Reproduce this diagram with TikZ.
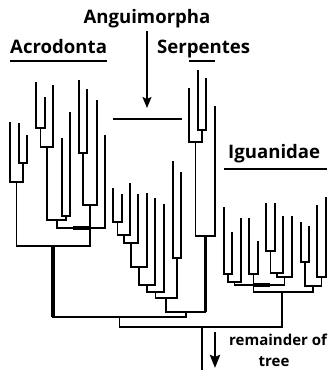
\documentclass[tikz,border=0pt]{standalone}
\usepackage{fontspec}
\setmainfont{Open Sans}
\usetikzlibrary{arrows.meta}
\tikzset{
  br/.style={line width=1.4pt, line cap=rect},
  thk/.style={line width=3.8pt},
  lbl/.style={font=\bfseries\fontsize{18.6}{22}\selectfont, inner sep=0pt},
  small/.style={font=\bfseries\fontsize{15}{18}\selectfont, inner sep=0pt},
}
\begin{document}
\begin{tikzpicture}[x=1pt,y=-1pt]
\useasboundingbox (0,0) rectangle (328,370);
% labels
\node[lbl, anchor=base] (ang) at (147,23) {Anguimorpha};
\node[lbl, anchor=base west] (acr) at (10,53) {Acrodonta};
\node[lbl, anchor=base west] (ser) at (157,53) {Serpentes};
\node[lbl, anchor=base west] (igu) at (228,158) {Iguanidae};
\node[small, anchor=base west] (rem) at (229,345) {remainder of};
\node[small, anchor=base] (tre) at (274,366) {tree};
\draw[line width=1.4pt] (10,61) -- (107,61);
\draw[line width=1.4pt] (189,61) -- (215,61);
\draw[line width=1.4pt] (224,169) -- (327,169);
\coordinate (angtop) at (147,31);
\coordinate (angtip) at (147,108);
\draw[line width=1.4pt, -{Stealth[length=11pt,width=9pt,inset=2pt]}] (angtop) -- (angtip);
\draw[line width=1.4pt] (113,119) -- (182,119);
\coordinate (remtop) at (215,332);
\coordinate (remtip) at (215,368);
\draw[line width=2.8pt, -{Stealth[length=13pt,width=10pt,inset=2pt]}] (remtop) -- (remtip);

% Acrodonta
\draw[br] (10,123) -- (10,182);
\draw[br] (19,124) -- (19,163) -- (27,163) -- (27,136);
\draw[br] (23,163) -- (23,182);
\draw[br] (10,182) -- (23,182);
\draw[br] (16.5,182) -- (16.5,246);
\draw[br] (36,83) -- (36,128) -- (45,128) -- (45,98);
\draw[br] (40.5,128) -- (40.5,147);
\draw[br] (53,86) -- (53,147);
\draw[br] (40.5,147) -- (53,147);
\draw[br] (47,147) -- (47,220);
\draw[br] (62,139) -- (62,216) -- (70,216) -- (70,113);
\draw[br] (66,216) -- (66,220);
\draw[br] (47,220) -- (66,220);
\draw[br] (57,220) -- (57,228);
\draw[br] (79,81) -- (79,153) -- (87,153) -- (87,90);
\draw[br] (83,153) -- (83,205);
\draw[br] (97,101) -- (97,205);
\draw[br] (83,205) -- (97,205);
\draw[br] (90,205) -- (90,246);
\draw[br] (105,136) -- (105,228);
\draw[br] (57,228) -- (105,228);
\draw[thk] (73,228) -- (90,228);
\draw[br] (16.5,246) -- (90,246);
\draw[thk] (53,246) -- (53,317);

% middle clade
\draw[br] (113,189) -- (113,222) -- (122,222) -- (122,195);
\draw[br] (117.5,222) -- (117.5,235);
\draw[br] (130,184) -- (130,235);
\draw[br] (117.5,235) -- (130,235);
\draw[br] (124,235) -- (124,243);
\draw[br] (138,195) -- (138,243);
\draw[br] (124,243) -- (138,243);
\draw[br] (131,243) -- (131,267);
\draw[br] (147,194) -- (147,267);
\draw[br] (131,267) -- (147,267);
\draw[br] (139,267) -- (139,285);
\draw[br] (155,199) -- (155,285);
\draw[br] (139,285) -- (155,285);
\draw[br] (147,285) -- (147,292);
\draw[br] (164,205) -- (164,292);
\draw[br] (147,292) -- (164,292);
\draw[br] (155.5,292) -- (155.5,298);
\draw[br] (173,162) -- (173,258) -- (181,258) -- (181,173);
\draw[br] (177,258) -- (177,298);
\draw[br] (155.5,298) -- (177,298);
\draw[br] (166,298) -- (166,312);

% Serpentes
\draw[br] (189,89) -- (189,142);
\draw[br] (198,71) -- (198,130) -- (206,130) -- (206,79);
\draw[br] (202,130) -- (202,142);
\draw[br] (189,142) -- (202,142);
\draw[br] (195.5,142) -- (195.5,236);
\draw[br] (215,107) -- (215,236);
\draw[br] (195.5,236) -- (215,236);
\draw[thk] (205.5,236) -- (205.5,312);
\draw[br] (166,312) -- (205.5,312);
\draw[br] (186,312) -- (186,317);
\draw[br] (53,317) -- (186,317);
\draw[br] (119.5,317) -- (119.5,327);
\draw[br] (119.5,327) -- (282,327);
\draw[br] (202,327) -- (202,370);

% Iguanidae
\draw[br] (224,208) -- (224,274) -- (232,274) -- (232,233);
\draw[br] (228,274) -- (228,282);
\draw[br] (241,219) -- (241,282);
\draw[br] (228,282) -- (241,282);
\draw[br] (234.5,282) -- (234.5,285);
\draw[br] (249,219) -- (249,274) -- (258,274) -- (258,242);
\draw[br] (253.5,274) -- (253.5,292);
\draw[br] (266,204) -- (266,251) -- (275,251) -- (275,204);
\draw[br] (270.5,251) -- (270.5,273);
\draw[br] (283,217) -- (283,273);
\draw[br] (270.5,273) -- (283,273);
\draw[br] (277,273) -- (277,277);
\draw[br] (292,217) -- (292,277);
\draw[br] (277,277) -- (292,277);
\draw[br] (284.5,277) -- (284.5,285);
\draw[br] (234.5,285) -- (284.5,285);
\draw[thk] (254,285) -- (270,285);
\draw[br] (301,223) -- (301,262) -- (309,262) -- (309,227);
\draw[br] (305,262) -- (305,286);
\draw[br] (317,206) -- (317,277) -- (326,277) -- (326,198);
\draw[br] (321.5,277) -- (321.5,286);
\draw[br] (305,286) -- (321.5,286);
\draw[br] (313,286) -- (313,292);
\draw[br] (253.5,292) -- (313,292);
\draw[br] (282,292) -- (282,327);
\end{tikzpicture}
\end{document}
